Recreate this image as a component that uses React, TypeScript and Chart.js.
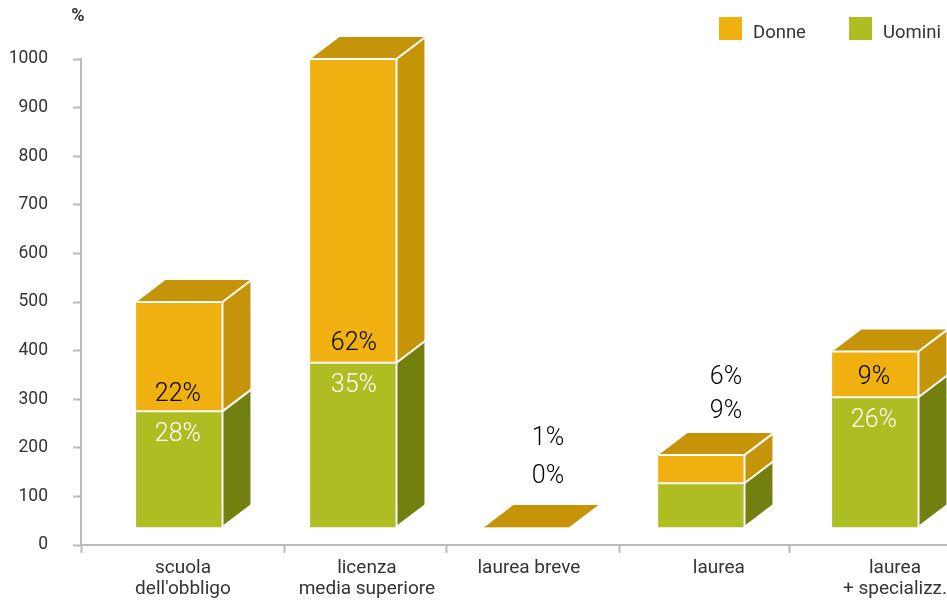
import React, { useEffect, useRef } from "react";
import { Chart, registerables } from "chart.js";

Chart.register(...registerables);

// Five education levels, evenly spaced along a linear x scale.
const categories = ["scuola\ndell'obbligo", "licenza\nmedia superiore", "laurea breve", "laurea", "laurea\n+ specializz."];
const barSlots = [1, 2, 3, 4, 5];
const slotBoundaries = [0.437, 1.609, 2.54, 3.534, 4.506];
const labelSlots = [1.023, 2.08, 3.011, 4.103, 5.115];

// Bars float above the axis; each level is read as its upper edge on the axis.
const barFloor = 37;
const uominiTop = [275, 375, 37, 127, 304];
const donneTop = [500, 1000, 37, 185, 398];
const uominiShare = ["28%", "35%", "0%", "9%", "26%"];
const donneShare = ["22%", "62%", "1%", "6%", "9%"];
const yTicks = [0, 100, 200, 300, 400, 500, 600, 700, 800, 900, 1000];

const DONNE = "#f0b110";
const DONNE_DARK = "#c59409";
const UOMINI = "#aebd21";
const UOMINI_DARK = "#738010";
const AXIS = "#b9b9be";
const INK = "#333338";
const FONT = "Roboto, sans-serif";
const DEPTH_X = 29;
const DEPTH_Y = 22;

// Share captions: pixel offset from the relevant edge of each bar.
const donneCaption = [
  { dx: -1, from: "mid", dy: -19 },
  { dx: 1, from: "mid", dy: -21 },
  { dx: 21, from: "top", dy: -90 },
  { dx: 25, from: "top", dy: -79 },
  { dx: -1, from: "mid", dy: -22 },
];

function polygon(ctx: CanvasRenderingContext2D, pts: number[][], fill: string) {
  ctx.beginPath();
  pts.forEach(([x, y], i) => (i ? ctx.lineTo(x, y) : ctx.moveTo(x, y)));
  ctx.closePath();
  ctx.fillStyle = fill;
  ctx.fill();
}

function segment(ctx: CanvasRenderingContext2D, x0: number, y0: number, x1: number, y1: number) {
  ctx.beginPath();
  ctx.moveTo(x0, y0);
  ctx.lineTo(x1, y1);
  ctx.stroke();
}

// Extrudes the flat bars into boxes and writes the share captions on them.
const boxPlugin = {
  id: "boxes",
  afterDatasetsDraw(chart: any) {
    const { ctx } = chart;
    const donneBars = chart.getDatasetMeta(0).data;
    const uominiBars = chart.getDatasetMeta(1).data;
    ctx.save();
    categories.forEach((_, i) => {
      const d = donneBars[i];
      const u = uominiBars[i];
      const left = u.x - u.width / 2;
      const right = left + u.width;
      const top = d.y;
      const mid = u.y;
      const base = u.base;
      const flat = base - top < 1;

      if (!flat) {
        polygon(ctx, [[right, base], [right + DEPTH_X, base - DEPTH_Y], [right + DEPTH_X, mid - DEPTH_Y], [right, mid]], UOMINI_DARK);
        polygon(ctx, [[right, mid], [right + DEPTH_X, mid - DEPTH_Y], [right + DEPTH_X, top - DEPTH_Y], [right, top]], DONNE_DARK);
      }
      polygon(ctx, [[left, top], [right, top], [right + DEPTH_X, top - DEPTH_Y], [left + DEPTH_X, top - DEPTH_Y]], DONNE_DARK);

      if (!flat) {
        ctx.strokeStyle = "#ffffff";
        ctx.lineWidth = 2;
        segment(ctx, left, top, right, top);
        segment(ctx, left, mid, right, mid);
        segment(ctx, right + 1, top, right + 1, base);
        segment(ctx, right + 1, top, right + 1 + DEPTH_X, top - DEPTH_Y);
        segment(ctx, right + 1, mid, right + 1 + DEPTH_X, mid - DEPTH_Y);
        segment(ctx, right + 1, base, right + 1 + DEPTH_X, base - DEPTH_Y);
      }

      ctx.font = `300 25px ${FONT}`;
      ctx.textAlign = "center";
      ctx.textBaseline = "middle";
      const caption = donneCaption[i];
      const anchor = caption.from === "mid" ? mid : top;
      ctx.fillStyle = "#000000";
      ctx.fillText(donneShare[i], u.x + caption.dx, anchor + caption.dy + 2);
      if (caption.from === "mid") {
        ctx.fillStyle = "#ffffff";
        ctx.fillText(uominiShare[i], u.x + caption.dx, mid + 23);
      } else {
        ctx.fillStyle = "#000000";
        ctx.fillText(uominiShare[i], u.x + caption.dx, anchor + caption.dy + 2 + (i === 2 ? 38 : 34));
      }
    });
    ctx.restore();
  },
  afterDraw(chart: any) {
    const { ctx } = chart;
    ctx.save();
    ctx.textBaseline = "middle";
    ctx.textAlign = "left";
    ctx.fillStyle = DONNE;
    ctx.fillRect(719, 17, 23, 23);
    ctx.fillStyle = UOMINI;
    ctx.fillRect(849, 17, 23, 23);
    ctx.font = `400 18.5px ${FONT}`;
    ctx.fillStyle = INK;
    ctx.fillText("Donne", 753, 33);
    ctx.fillText("Uomini", 883, 33);
    ctx.font = `700 18px ${FONT}`;
    ctx.textAlign = "center";
    ctx.fillText("%", 78, 16);
    ctx.restore();
  },
};

export default function App() {
  const canvasRef = useRef<HTMLCanvasElement>(null);

  useEffect(() => {
    const chart = new Chart(canvasRef.current as HTMLCanvasElement, {
      type: "bar",
      data: {
        datasets: [
          {
            label: "Donne",
            data: barSlots.map((x, i) => ({ x, y: [uominiTop[i], donneTop[i]] })),
            backgroundColor: DONNE,
            barThickness: 85,
            grouped: false,
          },
          {
            label: "Uomini",
            data: barSlots.map((x, i) => ({ x, y: [barFloor, uominiTop[i]] })),
            backgroundColor: UOMINI,
            barThickness: 85,
            grouped: false,
          },
        ],
      } as any,
      options: {
        animation: false,
        responsive: false,
        layout: { padding: { top: 59, left: 0, right: 0, bottom: 0 } },
        plugins: { legend: { display: false }, tooltip: { enabled: false } },
        scales: {
          x: {
            type: "linear",
            min: 0.437,
            max: 5.414,
            offset: false,
            afterBuildTicks(axis: any) {
              axis.ticks = [
                ...slotBoundaries.map((value) => ({ value, major: true })),
                ...labelSlots.map((value) => ({ value })),
                { value: 5.414 },
              ].sort((a, b) => a.value - b.value);
            },
            afterFit(axis: any) {
              axis.height = 56;
              axis.paddingLeft = 0;
              axis.paddingRight = 0;
            },
            border: { color: AXIS, width: 2 },
            grid: {
              offset: false,
              drawOnChartArea: false,
              tickLength: 8,
              tickWidth: 2,
              tickColor: (ctx: any) => (slotBoundaries.includes(ctx.tick?.value) ? AXIS : "rgba(0,0,0,0)"),
            },
            ticks: {
              autoSkip: false,
              maxRotation: 0,
              minRotation: 0,
              padding: 5,
              color: INK,
              font: { family: FONT, size: 19, lineHeight: 1.1 },
              callback: (value: any) => {
                const i = labelSlots.indexOf(value);
                return i < 0 ? "" : categories[i].split("\n");
              },
            },
          },
          y: {
            min: 0,
            max: 1000,
            afterBuildTicks(axis: any) {
              axis.ticks = yTicks.map((value) => ({ value }));
            },
            afterFit(axis: any) {
              axis.width = 81;
            },
            border: { color: AXIS, width: 2 },
            grid: { drawOnChartArea: false, tickLength: 8, tickWidth: 2, tickColor: AXIS },
            ticks: {
              autoSkip: false,
              padding: 25,
              color: INK,
              font: { family: FONT, size: 17.5 },
              callback: (value: any) => String(value),
            },
          },
        },
      } as any,
      plugins: [boxPlugin],
    });
    return () => chart.destroy();
  }, []);

  return (
    <div style={{ position: "fixed", left: 0, top: 0, width: 947, height: 601, background: "#ffffff" }}>
      <canvas ref={canvasRef} width={947} height={601} style={{ display: "block" }} />
    </div>
  );
}
